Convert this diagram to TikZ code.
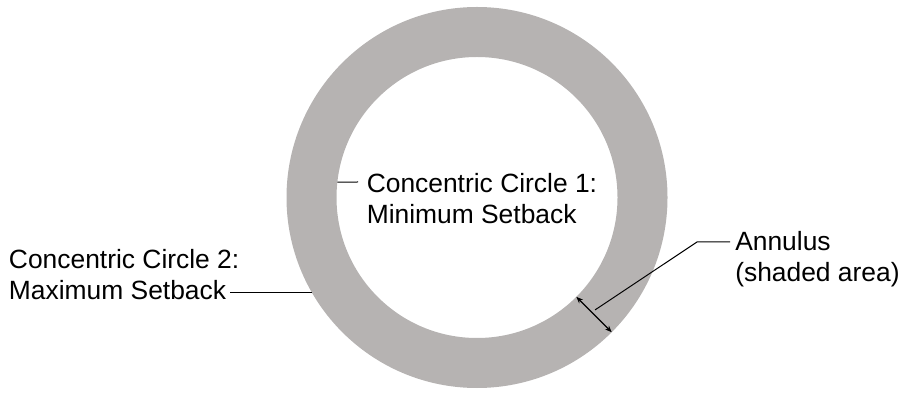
\documentclass[tikz,border=0pt]{standalone}
\usepackage{fontspec}
\setmainfont{Liberation Sans}
\usepackage{xcolor}
\usetikzlibrary{arrows.meta,calc}
\definecolor{ringgray}{RGB}{182,179,178}

\begin{document}
\begin{tikzpicture}[
  x=0.75pt, y=0.75pt,
  font=\fontsize{19.8}{23.25}\selectfont,
  lbl/.style={inner sep=0pt, anchor=base west, align=left},
  leader/.style={line width=0.75pt, draw=black},
  dimarrow/.style={{Stealth[length=5pt,width=4pt]}-{Stealth[length=5pt,width=4pt]}, line width=0.9pt}
]
\useasboundingbox (0,0) rectangle (905,392);
\coordinate (O) at (477,194.5);
\fill[ringgray, even odd rule] (O) circle (190.5) (O) circle (140.5);

% base west sits on the last line
\node[lbl] (Min) at (366.5,168) {Concentric Circle 1:\\Minimum Setback};
\node[lbl] (Max) at (8.7,92) {Concentric Circle 2:\\Maximum Setback};
\node[lbl] (Ann) at (735,110) {Annulus\\(shaded area)};

\coordinate (MinPt) at ($(O)+(173.7:140.5)$);
\coordinate (MinEnd) at (358,210);
\coordinate (MaxPt) at ($(O)+(210:190.5)$);
\coordinate (MaxEnd) at (230,99.25);
\coordinate (InPt) at ($(O)+(-45:140.5)$);
\coordinate (OutPt) at ($(O)+(-45:190.5)$);
\coordinate (AnnPt) at ($(O)+(-43.6:163)$);
\coordinate (AnnKnee) at (697,150);
\coordinate (AnnEnd) at (730,150);

\draw[leader] (MinPt) -- (MinEnd);
\draw[leader] (MaxEnd) -- (MaxPt);
\draw[leader] (AnnEnd) -- (AnnKnee) -- (AnnPt);
\draw[dimarrow] (InPt) -- (OutPt);
\end{tikzpicture}
\end{document}
